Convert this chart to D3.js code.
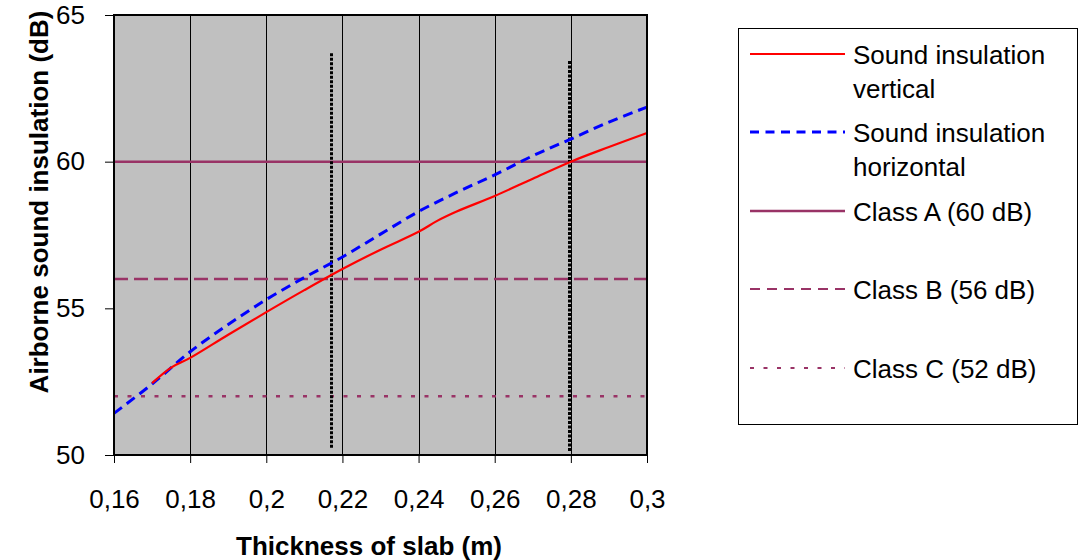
<!DOCTYPE html>
<html>
<head>
<meta charset="utf-8">
<script src="https://cdn.jsdelivr.net/npm/d3@7"></script>
<style>
  html, body { margin: 0; padding: 0; background: #fff; }
  svg { display: block; font-family: "Liberation Sans", Arial, sans-serif; }
</style>
</head>
<body>
<svg id="chart" width="1082" height="560"></svg>
<script>
// ---- data ----
const verticalX = [0.17, 0.175, 0.18, 0.19, 0.2, 0.21, 0.22, 0.23, 0.24, 0.245, 0.25, 0.26, 0.27, 0.28, 0.29, 0.3];
const verticalY = [52.45, 52.98, 53.31, 54.1, 54.87, 55.62, 56.34, 57.0, 57.61, 57.99, 58.3, 58.83, 59.42, 60.0, 60.5, 60.98];
const horizontalX = [0.16, 0.17, 0.18, 0.19, 0.2, 0.21, 0.22, 0.23, 0.24, 0.25, 0.26, 0.27, 0.28, 0.29, 0.3];
const horizontalY = [51.42, 52.42, 53.52, 54.45, 55.3, 56.05, 56.75, 57.53, 58.3, 58.95, 59.55, 60.2, 60.77, 61.35, 61.86];
const classNames = ["Class A (60 dB)", "Class B (56 dB)", "Class C (52 dB)"];
const classValues = [60, 56, 52];
const markerX = [0.2171, 0.2796];
const markerYTop = [63.7, 63.43];
const markerYBottom = [50.2, 50.1];
const xTicks = [0.16, 0.18, 0.2, 0.22, 0.24, 0.26, 0.28, 0.3];
const xTickLabels = ["0,16", "0,18", "0,2", "0,22", "0,24", "0,26", "0,28", "0,3"];
const yTicks = [50, 55, 60, 65];
const legendLabels = [["Sound insulation", "vertical"], ["Sound insulation", "horizontal"], ["Class A (60 dB)"], ["Class B (56 dB)"], ["Class C (52 dB)"]];
const xTitle = "Thickness of slab (m)";
const yTitle = "Airborne sound insulation (dB)";

// ---- layout ----
const svg = d3.select("#chart");
const L = 114, R = 647, T = 15, B = 455;
const x = d3.scaleLinear().domain([0.16, 0.3]).range([L, R]);
const y = d3.scaleLinear().domain([50, 65]).range([B, T]);
const plum = "#993366";

// plot background
svg.append("rect").attr("x", L).attr("y", T).attr("width", R - L).attr("height", B - T)
  .attr("fill", "#c0c0c0");

// vertical grid
svg.append("g").selectAll("line").data(xTicks.slice(1, -1)).join("line")
  .attr("x1", d => Math.round(x(d)) + 0.5).attr("x2", d => Math.round(x(d)) + 0.5)
  .attr("y1", T).attr("y2", B).attr("stroke", "#000").attr("stroke-width", 1);

// class lines
const classDash = [null, "14,6", "4,9.5"];
svg.append("g").selectAll("line").data(classValues).join("line")
  .attr("x1", L).attr("x2", R)
  .attr("y1", d => y(d)).attr("y2", d => y(d))
  .attr("stroke", plum).attr("stroke-width", 2.5)
  .attr("stroke-dasharray", (d, i) => classDash[i]);

// marker dotted verticals
svg.append("g").selectAll("line").data(markerX).join("line")
  .attr("x1", d => Math.round(x(d)) + 0.5).attr("x2", d => Math.round(x(d)) + 0.5)
  .attr("y1", (d, i) => y(markerYTop[i])).attr("y2", (d, i) => y(markerYBottom[i]))
  .attr("stroke", "#000").attr("stroke-width", 3).attr("stroke-dasharray", "3,1.5");

// series
const line = d3.line().x(d => x(d[0])).y(d => y(d[1])).curve(d3.curveCatmullRom.alpha(0.5));
svg.append("path").datum(horizontalX.map((v, i) => [v, horizontalY[i]]))
  .attr("d", line).attr("fill", "none").attr("stroke", "#0000ff")
  .attr("stroke-width", 3).attr("stroke-dasharray", "10,6");
svg.append("path").datum(verticalX.map((v, i) => [v, verticalY[i]]))
  .attr("d", line).attr("fill", "none").attr("stroke", "#ff0000")
  .attr("stroke-width", 2.2);

// frame
svg.append("rect").attr("x", L).attr("y", T).attr("width", R - L).attr("height", B - T)
  .attr("fill", "none").attr("stroke", "#000").attr("stroke-width", 2);

// axes
const xAxis = svg.append("g").attr("transform", `translate(0,${B})`)
  .call(d3.axisBottom(x).tickValues(xTicks).tickFormat((d, i) => xTickLabels[i]).tickSize(8).tickPadding(26.5));
const yAxis = svg.append("g").attr("transform", `translate(${L},0)`)
  .call(d3.axisLeft(y).tickValues(yTicks).tickSize(9).tickPadding(20));
[xAxis, yAxis].forEach(g => {
  g.select(".domain").remove();
  g.selectAll(".tick line").attr("stroke", "#000");
  g.selectAll(".tick text").attr("font-size", 26).attr("fill", "#000")
    .attr("font-family", "'Liberation Sans', Arial, sans-serif");
});

// titles
svg.append("text").attr("x", 369).attr("y", 555).attr("text-anchor", "middle")
  .attr("font-size", 26).attr("font-weight", "bold").text(xTitle);
svg.append("text").attr("transform", "translate(48,202) rotate(-90)").attr("text-anchor", "middle")
  .attr("font-size", 26).attr("font-weight", "bold").text(yTitle);

// legend
svg.append("rect").attr("x", 738.5).attr("y", 28.5).attr("width", 339).attr("height", 396)
  .attr("fill", "#fff").attr("stroke", "#000").attr("stroke-width", 1);
const legY = [54, 132, 211, 289, 368];
const legStyle = [
  { c: "#ff0000", w: 2, dash: null },
  { c: "#0000ff", w: 3, dash: "9,6.5" },
  { c: plum, w: 2.5, dash: null },
  { c: plum, w: 2, dash: "10,7" },
  { c: plum, w: 2, dash: "4,9.5" }
];
const leg = svg.append("g");
legendLabels.forEach((lab, i) => {
  leg.append("line").attr("x1", 750).attr("x2", 845).attr("y1", legY[i]).attr("y2", legY[i])
    .attr("stroke", legStyle[i].c).attr("stroke-width", legStyle[i].w)
    .attr("stroke-dasharray", legStyle[i].dash);
  const t = leg.append("text").attr("x", 853).attr("y", legY[i] + 9.5).attr("font-size", 26).attr("fill", "#000");
  lab.forEach((s, j) => t.append("tspan").attr("x", 853).attr("dy", j === 0 ? 0 : 34).text(s));
});
</script>
</body>
</html>
